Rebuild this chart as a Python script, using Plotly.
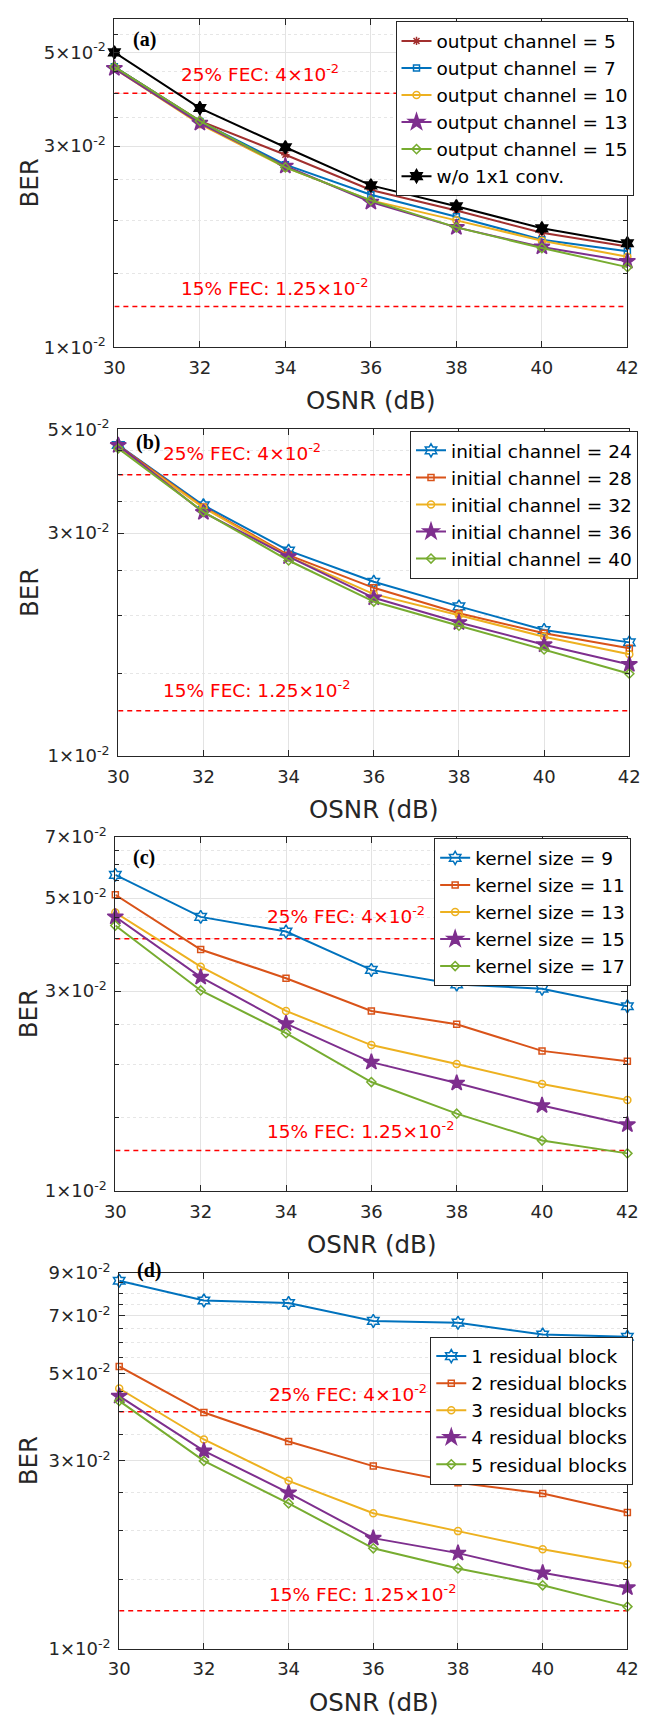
import math
import plotly.graph_objects as go

W, H = 649, 1722
FONT = "DejaVu Sans, Liberation Sans, Arial, sans-serif"
AX = "#262626"

# ---------------- data ----------------
osnr = [30, 32, 34, 36, 38, 40, 42]
fec25 = 0.04
fec15 = 0.0125

# (a) output channel
a_labels = ["output channel = 5", "output channel = 7", "output channel = 10",
            "output channel = 13", "output channel = 15", "w/o 1x1 conv."]
a_oc5 = [0.0462, 0.0344, 0.0286, 0.0236, 0.0211, 0.0187, 0.01735]
a_oc7 = [0.0462, 0.0343, 0.0271, 0.0230, 0.0204, 0.0180, 0.0169]
a_oc10 = [0.0458, 0.0338, 0.0267, 0.0223, 0.0200, 0.0179, 0.0164]
a_oc13 = [0.0458, 0.0340, 0.0269, 0.0221, 0.01925, 0.0173, 0.0160]
a_oc15 = [0.0462, 0.0344, 0.0267, 0.0223, 0.01925, 0.0172, 0.0155]
a_wo = [0.0500, 0.0369, 0.0298, 0.0242, 0.0216, 0.01915, 0.01766]

# (b) initial channel
b_labels = ["initial channel = 24", "initial channel = 28", "initial channel = 32",
            "initial channel = 36", "initial channel = 40"]
b_ic24 = [0.0463, 0.0344, 0.0275, 0.0236, 0.0209, 0.0186, 0.0175]
b_ic28 = [0.0462, 0.0341, 0.0269, 0.0229, 0.0202, 0.0183, 0.0170]
b_ic32 = [0.0458, 0.0340, 0.0267, 0.0222, 0.0200, 0.0180, 0.0165]
b_ic36 = [0.0462, 0.0332, 0.0267, 0.0218, 0.0193, 0.0173, 0.0157]
b_ic40 = [0.0455, 0.0333, 0.0262, 0.0214, 0.0190, 0.0169, 0.0150]

# (c) kernel size
c_labels = ["kernel size = 9", "kernel size = 11", "kernel size = 13",
            "kernel size = 15", "kernel size = 17"]
c_k9 = [0.0568, 0.0451, 0.0416, 0.0337, 0.0311, 0.0304, 0.0276]
c_k11 = [0.0509, 0.0377, 0.0322, 0.0269, 0.0250, 0.0216, 0.0204]
c_k13 = [0.0462, 0.0343, 0.0269, 0.0223, 0.0201, 0.0180, 0.0165]
c_k15 = [0.0451, 0.0324, 0.0251, 0.0203, 0.0181, 0.0160, 0.0144]
c_k17 = [0.0430, 0.0301, 0.0238, 0.0182, 0.0153, 0.0132, 0.0123]

# (d) residual blocks
d_labels = ["1 residual block", "2 residual blocks", "3 residual blocks",
            "4 residual blocks", "5 residual blocks"]
d_r1 = [0.0860, 0.0766, 0.0755, 0.0680, 0.0673, 0.0628, 0.0620]
d_r2 = [0.0521, 0.0398, 0.0336, 0.0291, 0.0264, 0.0248, 0.0222]
d_r3 = [0.0458, 0.0340, 0.0267, 0.0221, 0.0199, 0.0179, 0.0164]
d_r4 = [0.0438, 0.0318, 0.0249, 0.0191, 0.0175, 0.0156, 0.0143]
d_r5 = [0.0426, 0.0300, 0.0234, 0.0180, 0.0160, 0.0145, 0.0128]

# axis ticks
ytick_a = [0.01, 0.03, 0.05]
ytick_b = [0.01, 0.03, 0.05]
ytick_c = [0.01, 0.03, 0.05, 0.07]
ytick_d = [0.01, 0.03, 0.05, 0.07, 0.09]
ytop = {"a": 0.06, "b": 0.05, "c": 0.07, "d": 0.09}

# ---------------- styles ----------------
BLUE, ORANGE, YELLOW, PURPLE, GREEN = "#0072BD", "#D95319", "#EDB120", "#7E2F8E", "#77AC30"
BROWN, BLACK = "#A2302F", "#000000"

sty_std = [
    (BLUE, "hexagram-open", 10),
    (ORANGE, "square-open", 6),
    (YELLOW, "circle-open", 7),
    (PURPLE, "star", 12),
    (GREEN, "diamond-open", 7),
]
sty_a = [
    (BROWN, "asterisk-open", 7),
    (BLUE, "square-open", 6),
    (YELLOW, "circle-open", 7),
    (PURPLE, "star", 12),
    (GREEN, "diamond-open", 7),
    (BLACK, "hexagram", 10),
]

panels = [
    ("a", a_labels, [a_oc5, a_oc7, a_oc10, a_oc13, a_oc15, a_wo], sty_a, ytick_a),
    ("b", b_labels, [b_ic24, b_ic28, b_ic32, b_ic36, b_ic40], sty_std, ytick_b),
    ("c", c_labels, [c_k9, c_k11, c_k13, c_k15, c_k17], sty_std, ytick_c),
    ("d", d_labels, [d_r1, d_r2, d_r3, d_r4, d_r5], sty_std, ytick_d),
]

# layout geometry in pixels (left, right, top, bottom)
geo = {
    "a": (107, 638, 6, 339),
    "b": (111, 640, 422, 753),
    "c": (108, 638, 835, 1194),
    "d": (112, 638, 1277, 1658),
}
# legend left / top (px)
leg = {"a": (398, 8.5), "b": (413, 423.5), "c": (438, 836.5), "d": (434, 1341.5)}
# FEC text: x (data), yshift for 25%, yshift for 15%
fec_txt = {"a": (31.5, 20, 20), "b": (31.0, 23, 22), "c": (33.5, 24, 20), "d": (33.5, 19, 18)}
# panel letters (left px, center y px)
letters = {"a": (124, 27), "b": (127, 435), "c": (124, 856), "d": (128, 1275)}

fig = go.Figure()
layout = dict(
    width=W, height=H, margin=dict(l=0, r=0, t=0, b=0),
    paper_bgcolor="white", plot_bgcolor="white",
    font=dict(family=FONT, color=AX), showlegend=True,
)
annotations = []


def px2x(p):
    return p / W


def px2y(p):
    return 1 - p / H


for i, (key, labels, series, styles, yt) in enumerate(panels):
    n = "" if i == 0 else str(i + 1)
    xa, ya = "x" + n, "y" + n
    lg = "legend" + n
    l, r, t, b = geo[key]

    # FEC threshold lines
    for fv in (fec25, fec15):
        fig.add_trace(go.Scatter(
            x=[osnr[0], osnr[-1]], y=[fv, fv], mode="lines", xaxis=xa, yaxis=ya,
            line=dict(color="#FF0000", width=1.5, dash="5px,4px"),
            showlegend=False, hoverinfo="skip"))

    for lab, vals, (col, sym, sz) in zip(labels, series, styles):
        fig.add_trace(go.Scatter(
            x=osnr, y=vals, mode="lines+markers", name=lab, xaxis=xa, yaxis=ya,
            legend=lg, cliponaxis=False,
            line=dict(color=col, width=2),
            marker=dict(symbol=sym, size=sz, color=col,
                        line=dict(color=col, width=1.5))))

    top = ytop[key]
    minor_vals = []
    k = 15
    while k / 1000 < top - 1e-9:
        v = k / 1000
        if all(abs(v - m) > 1e-9 for m in yt):
            minor_vals.append(v)
        k += 5

    layout["xaxis" + n] = dict(
        domain=[px2x(l), px2x(r)], anchor=ya, range=[30, 42],
        tickvals=osnr, ticktext=[str(v) for v in osnr],
        showline=True, linecolor=AX, linewidth=1, mirror="ticks",
        ticks="inside", ticklen=6, tickcolor=AX, tickwidth=1,
        showgrid=True, gridcolor="#E3E3E3", gridwidth=1, zeroline=False,
        tickfont=dict(family=FONT, size=18, color=AX), ticklabelstandoff=4,
        ticklabeloverflow="allow",
    )
    layout["yaxis" + n] = dict(
        domain=[px2y(b), px2y(t)], anchor=xa, type="log",
        range=[math.log10(0.01), math.log10(top)],
        tickmode="array", tickvals=yt,
        ticktext=[f"{int(round(v * 100))}×10<sup>-2</sup>" for v in yt],
        showline=True, linecolor=AX, linewidth=1, mirror="ticks",
        ticks="inside", ticklen=6, tickcolor=AX, tickwidth=1,
        showgrid=True, gridcolor="#E3E3E3", gridwidth=1, zeroline=False,
        tickfont=dict(family=FONT, size=18, color=AX), ticklabelstandoff=4,
        ticklabeloverflow="allow",
        minor=dict(tickmode="array", tickvals=minor_vals, ticks="inside", ticklen=4,
                   tickcolor=AX, showgrid=True, gridcolor="#E6E6E6", griddash="dot",
                   gridwidth=1),
    )
    ll, lt = leg[key]
    layout[lg] = dict(
        x=px2x(ll), y=px2y(lt), xanchor="left", yanchor="top",
        bgcolor="white", bordercolor=AX, borderwidth=1, tracegroupgap=0,
        font=dict(family=FONT, size=18.5, color="#000000"),
    )

    # axis titles
    annotations.append(dict(
        text="OSNR (dB)", xref="paper", yref="paper",
        x=px2x((l + r) / 2), y=px2y(b + 54), xanchor="center", yanchor="middle",
        showarrow=False, font=dict(family=FONT, size=24.5, color=AX)))
    annotations.append(dict(
        text="BER", xref="paper", yref="paper", textangle=-90,
        x=px2x(19), y=px2y((t + b) / 2), xanchor="center", yanchor="middle",
        showarrow=False, font=dict(family=FONT, size=24.5, color=AX)))
    # FEC texts
    fx, s25, s15 = fec_txt[key]
    annotations.append(dict(
        text="25% FEC: 4×10<sup>-2</sup>", xref=xa, yref=ya, x=fx, y=math.log10(fec25),
        xanchor="left", yanchor="middle", yshift=s25, showarrow=False,
        font=dict(family=FONT, size=18.5, color="#FF0000")))
    annotations.append(dict(
        text="15% FEC: 1.25×10<sup>-2</sup>", xref=xa, yref=ya, x=fx, y=math.log10(fec15),
        xanchor="left", yanchor="middle", yshift=s15, showarrow=False,
        font=dict(family=FONT, size=18.5, color="#FF0000")))
    # panel letter
    lx, ly = letters[key]
    annotations.append(dict(
        text=f"<b>({key})</b>", xref="paper", yref="paper",
        x=px2x(lx), y=px2y(ly), xanchor="left", yanchor="middle", showarrow=False,
        font=dict(family="Liberation Serif, Times New Roman, serif", size=20, color="#000000")))

layout["annotations"] = annotations
fig.update_layout(**layout)
fig.write_html("out.html")
